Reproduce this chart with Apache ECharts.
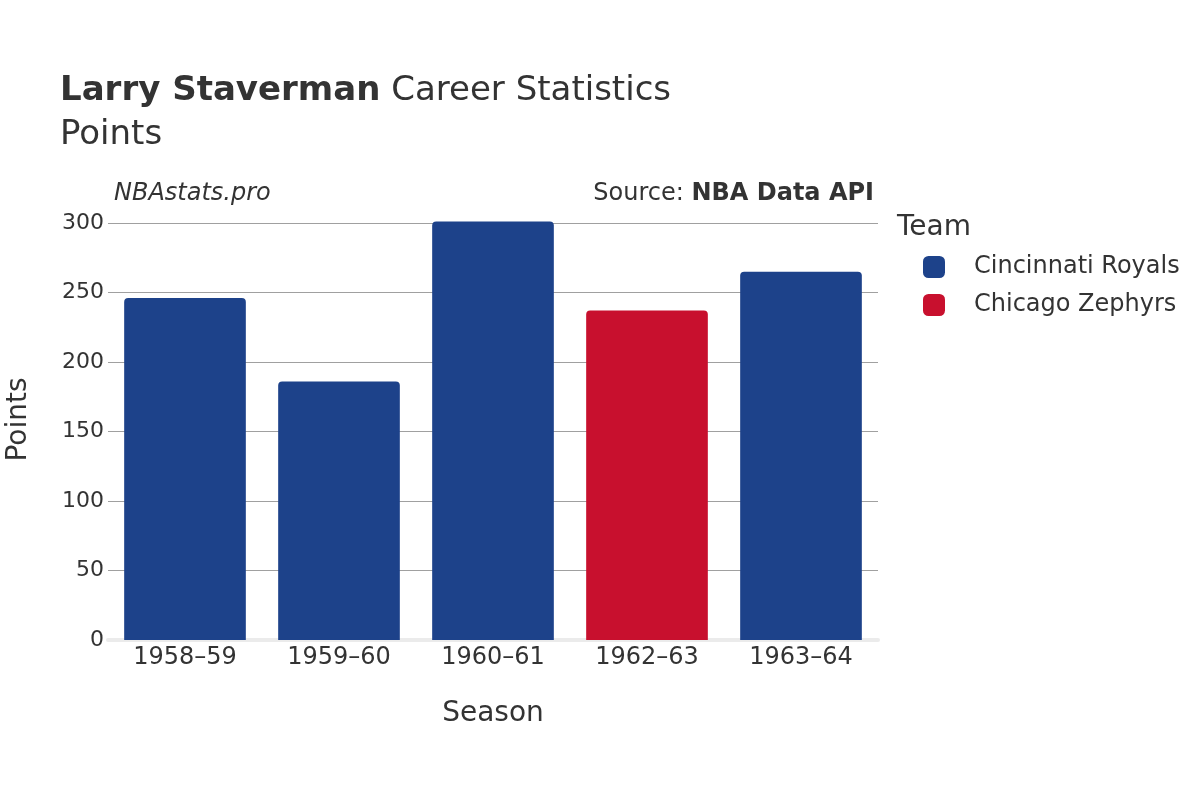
<!DOCTYPE html>
<html>
<head>
<meta charset="utf-8">
<script src="https://cdn.jsdelivr.net/npm/echarts@6/dist/echarts.min.js"></script>
<style>
  html, body { margin: 0; padding: 0; background: #fff; }
  #chart { width: 1200px; height: 800px; }
</style>
</head>
<body>
<div id="chart"></div>
<script>
// data
var seasons = ['1958–59', '1959–60', '1960–61', '1962–63', '1963–64'];
var teams = ['Cincinnati Royals', 'Chicago Zephyrs'];
var teamColors = ['#1d428a', '#c8102e'];
var royalsPoints = [246, 186, 301, null, 265];
var zephyrsPoints = [null, null, null, 237, null];
var yTicks = [0, 50, 100, 150, 200, 250, 300];

var font = 'DejaVu Sans';
var textColor = '#333';

var chart = echarts.init(document.getElementById('chart'));

function barSeries(name, data, color) {
    return {
        name: name,
        type: 'bar',
        stack: 'team',
        data: data,
        clip: false,
        barCategoryGap: '21%',
        itemStyle: {
            color: color,
            borderRadius: [4, 4, 0, 0]
        }
    };
}

var option = {
    animation: false,
    textStyle: { fontFamily: font },
    title: [
        {
            left: 55,
            top: 69,
            text: '{b|Larry Staverman} {n|Career Statistics}',
            textStyle: {
                fontWeight: 'normal',
                fontSize: 34,
                rich: {
                    b: { fontFamily: font, fontSize: 34, fontWeight: 'bold', color: textColor },
                    n: { fontFamily: font, fontSize: 34, fontWeight: 'normal', color: textColor }
                }
            }
        },
        {
            left: 55,
            top: 113,
            text: 'Points',
            textStyle: { fontFamily: font, fontSize: 34, fontWeight: 'normal', color: textColor }
        }
    ],
    graphic: [
        {
            type: 'text',
            left: 114,
            top: 182,
            style: { text: 'NBAstats.pro', font: 'italic 24px "DejaVu Sans"', fill: textColor }
        },
        {
            type: 'text',
            right: 326,
            top: 182,
            style: {
                text: 'Source: {b|NBA Data API}',
                font: '24px "DejaVu Sans"',
                fill: textColor,
                rich: { b: { fontWeight: 'bold', fontSize: 24, fontFamily: font, fill: textColor } }
            }
        },
        {
            type: 'text',
            left: 897,
            top: 214,
            style: { text: 'Team', font: '28px "DejaVu Sans"', fill: textColor }
        }
    ],
    legend: {
        orient: 'vertical',
        left: 918,
        top: 250,
        itemWidth: 22,
        itemHeight: 22,
        itemGap: 14,
        icon: 'roundRect',
        data: teams,
        textStyle: {
            fontFamily: font,
            fontSize: 24,
            lineHeight: 22,
            color: textColor,
            padding: [0, 0, 0, 24]
        }
    },
    grid: {
        left: 108,
        right: 322,
        top: 223,
        bottom: 160,
        outerBoundsMode: 'none'
    },
    xAxis: {
        type: 'category',
        data: seasons,
        name: 'Season',
        nameLocation: 'middle',
        nameGap: 60,
        nameTextStyle: { fontFamily: font, fontSize: 28, color: textColor },
        axisLine: { show: true, lineStyle: { color: '#ebebeb', width: 4 } },
        axisTick: { show: false },
        axisLabel: { fontFamily: font, fontSize: 24, color: textColor, margin: 6 }
    },
    yAxis: {
        type: 'value',
        min: 0,
        max: 300,
        interval: 50,
        name: 'Points',
        nameLocation: 'middle',
        nameGap: 75,
        nameTextStyle: { fontFamily: font, fontSize: 28, color: textColor, padding: [0, 0, 0, 24] },
        axisLine: { show: false },
        axisTick: { show: false },
        axisLabel: {
            fontFamily: font,
            fontSize: 22,
            color: textColor,
            margin: 4,
            formatter: function (v) { return yTicks.indexOf(v) >= 0 ? String(v) : ''; }
        },
        splitLine: { lineStyle: { color: '#a0a0a0', width: 1 } }
    },
    series: [
        barSeries(teams[0], royalsPoints, teamColors[0]),
        barSeries(teams[1], zephyrsPoints, teamColors[1])
    ]
};

chart.setOption(option);
</script>
</body>
</html>
